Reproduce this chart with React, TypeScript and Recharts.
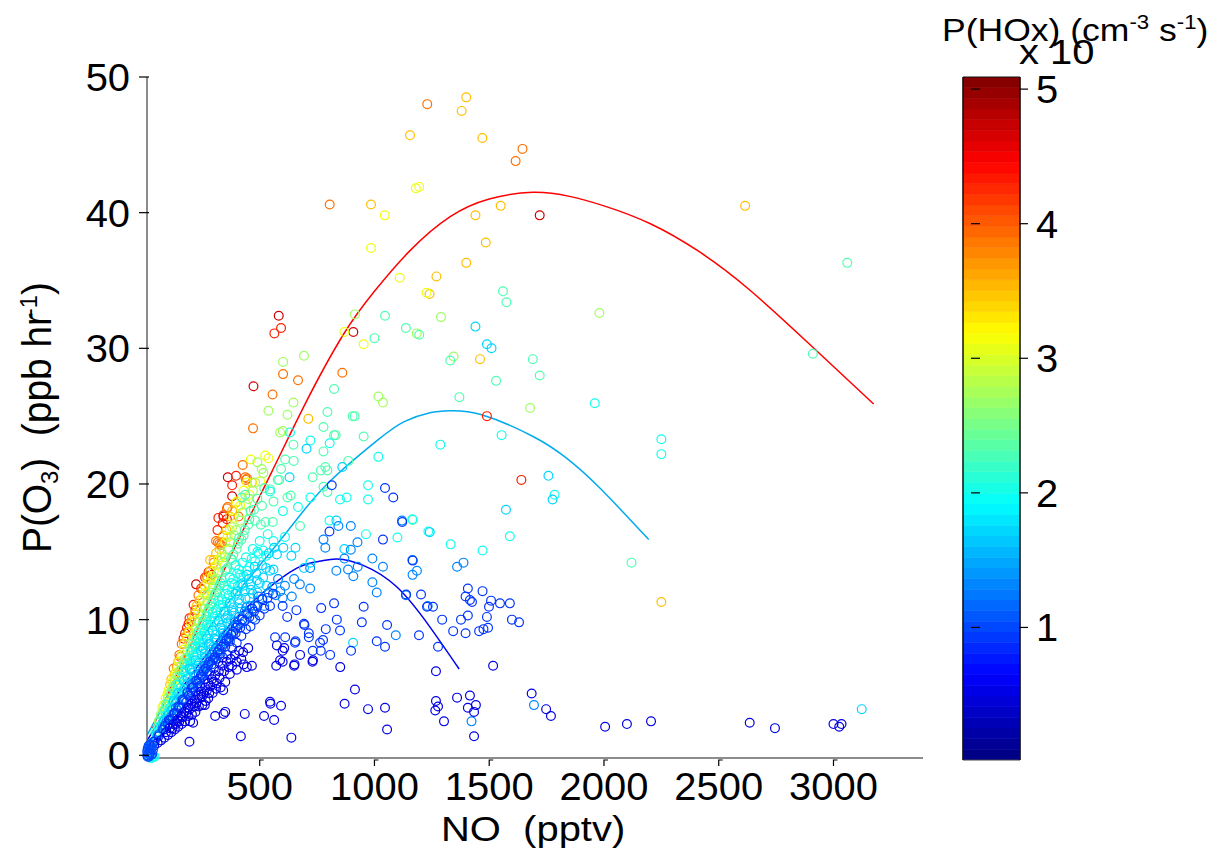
import { Bar, BarChart, ComposedChart, Line, Scatter, XAxis, YAxis } from "recharts";

// scatter points [NO pptv, P(O3) ppb/hr], grouped by P(HOx) level of the colorbar
const hox05 = [[194,1],[418,1.4],[638,1.3],[1055,1.9],[1434,1.4],[1303,2.5],[915,4.85],[870,3.8],[972,3.4],[1046,3.5],[1268,4],[1277,3.6],[1265,3.3],[1360,4.25],[1416,4.4],[1407,3.5],[1442,3.7],[1434,3.2],[1685,4.55],[1748,3.4],[1769,2.9],[545,3.95],[547,3.8],[593,3.65],[519,2.9],[563,2.6],[435,3.05],[350,3.2],[343,3.05],[306,2.9],[261,3.7],[210,2.4],[2005,2.1],[2100,2.3],[2205,2.5],[2635,2.4],[2745,2],[3000,2.3],[3025,2.1],[3035,2.3],[1517,6.6],[1268,6.2],[851,6.5],[330,5],[341,4.8],[310,4.9],[295,4.6],[280,4.6],[265,4],[250,3.7],[235,3.6],[220,3.2],[205,3],[190,2.9],[175,2.5],[160,2.3],[145,2.1],[130,1.9],[115,1.7],[100,1.5],[85,1.3],[70,1.1],[55,0.9],[40,0.7],[197,2.5],[350,5.4],[370,6],[345,6.2],[325,5.7],[300,5.4],[285,5.1],[270,4.8],[255,4.5],[240,4.2],[225,3.9],[210,3.6],[195,3.4],[180,3.1],[165,2.8],[150,2.5],[135,2.3],[120,2],[380,6.6],[400,6.9],[420,7.1],[365,6.5],[430,6.7],[400,6.3],[444,6.5],[466,6.6],[572,6.6],[600,6.9],[589,7],[650,6.6],[652,6.7],[730,6.9],[732,7],[575,8.1],[600,7.7],[607,7.9],[676,7.4]];
const hox05Dense = [[92,1.7],[108,2],[124,2.3],[142,2.6],[158,2.9],[172,3.2],[188,3.5],[203,3.8],[217,4.1],[232,4.4],[246,4.7],[262,5],[276,5.3],[292,5.6],[306,5.9],[322,6.2],[338,6.6],[356,6.9],[374,7.1],[392,7.4],[410,7.7],[428,7.6],[450,7.9],[218,3.6],[248,4.3],[276,4.2],[312,5.3]];
const hox09 = [[567,8.7],[611,8.7],[654,8.3],[656,8.4],[693,9.7],[695,9.6],[714,9],[714,8.7],[731,7.7],[766,7.7],[807,7.4],[763,8.3],[776,8.5],[788,9.3],[850,9.2],[836,10],[768,10.85],[824,11.2],[898,7.7],[945,9.8],[953,10.95],[1010,8.4],[1046,8],[1055,9.6],[1194,8.85],[1277,8],[1343,9.15],[1397,9],[1295,10],[1229,10.95],[1255,10.95],[1377,10],[1407,10.3],[1456,9.15],[1475,9.3],[1495,9.4],[1490,10.2],[1499,10.95],[1547,11.2],[1590,11.2],[1599,10],[1630,9.8],[1407,12.3],[1471,12.1],[1397,11.7],[1416,11.45],[1425,11.3],[1508,11.4],[1203,11.85],[1138,11.85],[1167,14.35],[1121,17.2],[300,6.4],[280,6],[260,5.6],[240,5.1],[220,4.7],[200,4.3],[180,3.9],[160,3.5],[140,3.1],[120,2.7],[100,2.3],[80,1.9],[60,1.4],[40,1],[320,6.9],[340,7.2],[360,7.4],[380,7.9],[400,8.3],[420,8.8],[440,9.3],[460,9.5],[480,10],[500,10.3],[520,10.8],[545,11],[310,7.1],[290,6.7],[270,6.2],[250,5.8],[230,5.3],[210,5],[190,4.4],[170,4],[150,3.5],[130,3.1],[110,2.6],[350,8],[370,8.4],[395,9],[415,9.4],[435,9.9],[455,10.2],[475,10.6],[330,7.5],[660,10.7],[620,10.2],[600,11],[1046,19.7],[1082,19],[814,19.9],[1037,15.9],[804,16.5]];
const hox09Dense = [[88,2.2],[104,2.6],[126,3.1],[145,3.6],[165,4.1],[186,4.6],[205,5],[224,5.5],[244,5.9],[264,6.4],[284,6.9],[304,7.2],[324,7.8],[344,8.2],[364,8.6],[384,9.1],[404,9.6],[424,10],[446,10.4],[468,10.8],[490,11],[512,11.5],[534,11.6],[558,11.9],[205,4.6],[236,5.6],[256,6.2],[276,6.7],[296,7],[316,7.6],[336,8],[356,8.5],[376,8.9],[396,9.4]];
const hox13 = [[1120,17.3],[843,16.9],[897,16.9],[778,15.9],[786,15.3],[926,15.7],[897,15.15],[1165,14.4],[1185,13.6],[1166,13.3],[991,14.5],[1037,13.9],[927,13.9],[885,13.7],[834,13.6],[908,13.2],[991,12.75],[1010,12],[1137,11.8],[1232,11],[1360,13.9],[1388,14.2],[869,14.5],[720,13.8],[650,13],[610,12.5],[580,13],[540,12],[510,11.5],[480,11],[450,10.5],[425,10],[400,9.5],[375,8.9],[350,8.4],[325,7.8],[300,7.2],[275,6.6],[250,6],[225,5.4],[200,4.8],[175,4.2],[150,3.6],[125,3],[105,2.6],[85,2.1],[65,1.6],[45,1.1],[25,0.7],[460,11],[435,10.6],[410,10.2],[385,9.5],[360,9],[335,8.4],[310,7.9],[285,7.2],[260,6.6],[235,6],[210,5.3],[185,4.7],[160,4.1],[135,3.5],[570,11.8],[600,11.6],[640,11.7],[675,12.6],[720,12.3],[1695,3.7],[1423,2.5],[1093,8.85]];
const hox13Dense = [[92,2.4],[118,2.9],[143,3.3],[167,4.1],[192,4.4],[218,5.5],[243,5.7],[268,6.5],[292,7.4],[317,7.4],[342,8.7],[367,8.7],[392,9.8],[417,9.7],[442,10.9],[470,10.1],[495,11.7],[520,11],[555,12.4],[590,12.1],[78,2],[58,1.5],[37,1],[202,5.2],[228,5],[254,6.3],[279,6.9],[304,7.6],[329,8.1],[355,8.6]];
const hox17 = [[704,22.6],[630,20.5],[860,21.25],[638,14.7],[656,15.3],[1241,16.45],[1573,18.1],[1776,18.85],[1758,20.6],[563,15.3],[528,13.8],[560,13.7],[721,14.2],[693,13.8],[603,15.3],[575,14.8],[540,14.9],[510,14],[485,13.4],[460,12.6],[435,12.1],[410,11.5],[385,10.9],[360,10.3],[335,9.6],[310,8.9],[285,8.2],[260,7.5],[235,6.8],[210,6.1],[185,5.3],[160,4.6],[135,3.9],[115,3.3],[95,2.7],[75,2.1],[55,1.5],[35,0.9],[445,13.3],[420,12.6],[395,11.9],[370,11.2],[345,10.6],[320,9.9],[295,9.2],[270,8.6],[245,7.7],[220,7],[195,6.4],[170,5.5],[145,4.6],[125,4],[470,11.9],[500,12.7],[530,12.5],[490,12],[455,11.6],[415,10.8],[375,10],[340,9],[300,8],[265,7],[907,8.3],[3123,3.4],[1440,31.6],[1490,30.3],[1510,30],[834,17.3],[869,15.2]];
const hox17Dense = [[83,2.5],[103,3],[122,3.4],[148,4.2],[172,4.9],[188,5.7],[213,5.8],[238,6.4],[262,7.2],[288,7.8],[312,8.5],[338,9.2],[362,9.8],[388,10.5],[412,11.2],[438,11.6],[462,12.2],[488,12.9],[515,13.1],[545,13.6],[203,6.3],[228,6.6],[253,7.9],[278,8.2],[303,8.6],[328,9.4],[353,10.1],[378,10.7],[403,12.1],[428,12.5],[453,13],[478,13.9]];
const hox20 = [[632,23.8],[721,23.2],[805,23],[1017,22],[972,19.9],[972,18.85],[850,18.85],[879,19],[721,19],[667,18.3],[601,18],[545,19.45],[804,17.3],[1165,17.4],[963,16.3],[1100,16.05],[1235,16.5],[495,14.85],[528,14.7],[1332,15.55],[1471,15.1],[1590,16.15],[1554,23.6],[1287,22.9],[1960,25.95],[2250,23.3],[2250,22.2],[1785,19.2],[480,14.3],[455,13.9],[430,13.2],[405,12.5],[380,12],[355,11.3],[330,10.6],[305,9.9],[280,9],[255,8.3],[230,7.5],[205,6.7],[180,5.8],[155,5],[130,4.2],[110,3.5],[90,2.9],[70,2.2],[50,1.6],[30,0.9],[500,15.8],[470,15.2],[440,14.6],[410,13.7],[385,13],[360,12.2],[335,11.5],[310,10.7],[285,9.9],[260,9.1],[235,8.3],[210,7.4],[185,6.6],[160,5.7],[425,14.2],[395,14],[370,13.1],[345,12.5],[320,11.4],[295,10.5],[270,9.6],[245,8.8],[220,8],[195,7.1],[170,6.2],[145,5.2],[560,15.8],[610,16.1]];
const hox20Dense = [[62,2],[82,2.6],[102,3.2],[122,3.9],[138,4.5],[152,4.6],[178,6.2],[198,6.9],[215,7.2],[240,8],[265,8.8],[290,9.6],[315,10.3],[340,11.1],[365,11.8],[390,12.6],[415,13.3],[445,13.6],[465,14.5],[490,15],[515,15.1],[535,16.3],[228,7.9],[252,8.6],[277,9.4],[302,10.2],[327,11.1],[352,11.9],[377,12.7],[402,13.4]];
const hox23 = [[795,25.3],[778,24.2],[824,27],[824,23.6],[831,23.6],[905,25],[914,25],[953,23.5],[778,22.4],[647,22.9],[611,21.8],[648,21.7],[593,21.1],[579,20.3],[585,20.3],[731,20.5],[767,21],[786,21.25],[795,21],[886,21.7],[778,19.8],[795,19.4],[621,19],[635,19.15],[525,17.2],[557,17.2],[676,16.9],[1000,30.75],[1046,32.4],[1137,31.5],[1195,31],[1560,34.2],[1575,33.4],[1330,29.1],[1690,29.2],[1720,28],[1530,27.6],[1370,26.4],[3060,36.3],[2910,29.6],[1167,17.35],[2120,14.2],[422,19],[437,19.2],[460,18],[490,18.9],[480,17.3],[450,17],[520,19.7],[545,19.6],[560,18.7],[420,15.9],[400,15.2],[375,14.5],[350,13.6],[325,12.5],[300,11.5],[275,10.6],[250,9.6],[225,8.7],[200,7.7],[175,6.8],[150,5.8],[125,4.9],[105,4],[85,3.3],[65,2.5],[45,1.7],[360,13.8],[335,12.9],[310,12],[285,11],[260,10],[235,9.2],[210,8.2],[385,14.8],[410,16],[435,16.6],[505,17]];
const hox23Dense = [[55,2.1],[75,2.9],[95,3.7],[115,4.5],[135,5.2],[160,6.3],[185,7.2],[208,7.9],[232,8.9],[255,9.9],[280,10.8],[305,11.8],[330,12.7],[355,13.7],[380,14.4],[405,15.6],[430,16.2],[455,17.4],[475,18.1],[510,18.4],[222,8.4],[246,9.3],[268,10.3],[292,11.2],[318,12.2]];
const hox27 = [[693,29.45],[602,29],[647,26],[538,25.4],[621,25.1],[1017,26.45],[1037,26],[915,32.5],[1184,31.1],[1290,32.3],[1980,32.6],[1345,29.4],[1678,25.6],[509,21.1],[516,20.8],[601,23.9],[589,23.8],[490,21.6],[470,19.5],[440,18.5],[415,17.3],[390,16.2],[365,15.2],[340,14.2],[315,13],[290,12],[260,10.8],[235,9.8],[210,8.8],[185,7.7],[160,6.6],[140,5.8],[120,5],[100,4.2],[80,3.3],[60,2.5],[380,16.8],[335,14.9],[300,12.9],[270,11.8]];
const hox27Dense = [[70,3],[90,3.8],[110,4.6],[130,5.4],[150,6.2],[172,7.1],[195,8.2],[222,9.3],[246,10.3],[272,11.3],[296,12.4],[322,13.5],[348,14.6],[372,15.7],[398,16.6],[425,17.9],[450,18.9],[480,20.1]];
const hox31 = [[461,21.8],[524,22.1],[538,21.9],[502,20.2],[400,18.7],[1045,39.8],[1180,41.8],[1195,41.9],[985,37.4],[1110,35.2],[869,31.2],[953,30.3],[1227,34.1],[125,5.8],[103,4.8],[430,19.5],[455,19.2],[370,16.6],[350,15.7],[330,14.6],[300,13.6],[275,12.7],[250,11.6],[240,10.9],[215,9.9],[195,9.1],[170,7.8],[150,6.9],[135,6.1],[90,4.2],[75,3.5],[310,14],[265,12],[285,12.9]];
const hox31Dense = [[82,3.7],[98,4.5],[118,5.4],[142,6.5],[162,7.4],[185,8.5],[208,9.5],[232,10.6],[258,11.9],[292,13.2],[320,14.4],[360,16.1],[385,17.5],[415,18.4],[445,20.1]];
const hox35 = [[712,24.8],[466,20.1],[284,14.4],[299,14.4],[2615,40.5],[1550,40.5],[1440,39.8],[1485,37.8],[1400,48.5],[1380,47.5],[1155,45.7],[1470,45.5],[985,40.6],[2250,11.3],[1400,36.3],[1270,35.3],[1240,34],[1460,29.2],[285,13.6],[260,12.5],[310,14.9],[340,16.2],[370,17.6],[395,18.6],[225,11],[200,9.8],[180,8.8],[130,6],[110,5.2],[115,5.6],[145,6.9],[170,8.2],[190,9.1],[215,10.4],[238,11.4],[272,13],[325,15.2],[355,16.6],[380,18]];
const hox39 = [[602,28.1],[667,27.65],[556,26.6],[471,24.1],[426,21.4],[437,20.5],[440,20.3],[445,20.4],[408,17.6],[357,18.2],[361,18.3],[310,15.8],[318,15.7],[325,15.6],[331,15.5],[336,15.7],[233,11.8],[154,7.25],[139,6.5],[860,28.2],[805,40.6],[1230,48],[1645,44.7],[1615,43.8],[250,12.2],[270,13.2],[300,14.2],[150,7.4],[205,10.2],[160,8.2],[125,6.4]];
const hox43 = [[593,31.5],[564,31.1],[397,20.6],[380,19.9],[320,17.5],[342,17.7],[357,17.4],[339,17.1],[316,16.6],[277,13.5],[289,13.3],[212,11.1],[194,10.1],[190,9.7],[168,8.6],[175,9],[1490,25],[1640,20.3],[245,12.3],[262,13.1],[220,10.7],[183,9.4]];
const hox47 = [[583,32.4],[908,31.2],[473,27.2],[361,20.5],[380,19.1],[223,12.6],[1720,39.8],[342,17.6]];
const originRim = [[35,-0.1],[42,-0.1],[30,-0.2],[25,-0.2]];
const originBlob = [[10,0],[14,0.2],[18,0.1],[12,0.5],[20,0.4],[24,0.2],[28,0.5],[16,0.7],[22,0.8],[30,0.8],[35,0.4],[10,0.3],[12,-0.1],[18,-0.1],[26,0],[32,0.1]];

// fitted curves
const curveHigh = [[32,2],[200,8.2],[371,14.6],[550,20.8],[701,26],[864,31],[1000,34.2],[1155,37.2],[1330,39.7],[1500,41],[1690,41.5],[1850,41.2],[2000,40.5],[2200,39.2],[2417,37.1],[2635,34.3],[2896,30.3],[3175,25.9]];
const curveMid = [[10,1.5],[100,4.3],[250,8.7],[400,12],[515,14.3],[662,17.4],[806,20.2],[1011,23.2],[1130,24.6],[1242,25.25],[1330,25.4],[1467,25.1],[1691,23.5],[1837,21.9],[1982,19.7],[2195,15.9]];
const curveLow = [[10,1.1],[100,3.5],[271,7.5],[390,10],[515,12],[662,13.8],[760,14.3],[837,14.47],[951,14],[1098,12.4],[1242,9.45],[1369,6.36]];

const xTicks = [500, 1000, 1500, 2000, 2500, 3000];
const yTicks = [0, 10, 20, 30, 40, 50];
const colorbarTicks = [1, 2, 3, 4, 5];
const COLORBAR_MIN = 0.015;
const COLORBAR_MAX = 5.09;
const COLORBAR_BANDS = 64;

const jet = (t: number) => {
  const ch = (v: number) => Math.round(255 * Math.max(0, Math.min(1, v)));
  const r = ch(1.5 - Math.abs(4 * t - 3));
  const g = ch(1.5 - Math.abs(4 * t - 2));
  const b = ch(1.5 - Math.abs(4 * t - 1));
  return `rgb(${r},${g},${b})`;
};
const hoxColor = (v: number) => jet(v / COLORBAR_MAX);

const scatterGroups: [number, number[][]][] = [
  [2.0, originRim],
  [4.7, hox47],
  [4.3, hox43],
  [3.9, hox39],
  [3.5, hox35],
  [3.1, hox31],
  [3.1, hox31Dense],
  [2.7, hox27],
  [2.7, hox27Dense],
  [2.3, hox23],
  [2.3, hox23Dense],
  [2.0, hox20],
  [2.0, hox20Dense],
  [1.7, hox17],
  [1.7, hox17Dense],
  [1.3, hox13],
  [1.3, hox13Dense],
  [0.9, hox09],
  [0.9, hox09Dense],
  [0.5, hox05],
  [0.5, hox05Dense],
  [1.0, originBlob],
];

const toRows = (pairs: number[][]) => pairs.map(([x, y]) => ({ x, y }));

const bandKeys = Array.from({ length: COLORBAR_BANDS }, (_, i) => `band${i}`);
const bandStep = (COLORBAR_MAX - COLORBAR_MIN) / COLORBAR_BANDS;
const colorbarRow: Record<string, number | string> = { name: "P(HOx)" };
bandKeys.forEach((k, i) => {
  colorbarRow[k] = i === 0 ? bandStep + COLORBAR_MIN : bandStep;
});

const FONT = "'Liberation Sans', Arial, sans-serif";

function Stretched({ x, y, size = 36, stretch = 1.11, anchor = "start", children }: any) {
  return (
    <text transform={`translate(${x},${y}) scale(${stretch},1)`} textAnchor={anchor} fontFamily={FONT} fontSize={size} fill="#000">
      {children}
    </text>
  );
}

function XTick({ x, y, payload }: any) {
  return (
    <g>
      <path d={`M${x} ${y}v-6h4`} stroke="#000" fill="none" strokeWidth={1.2} />
      <Stretched x={x} y={800} size={38} stretch={1.05} anchor="middle">{payload.value}</Stretched>
    </g>
  );
}

function YTick({ x, y, payload }: any) {
  return (
    <g>
      <line x1={x} x2={x + 10} y1={y} y2={y} stroke="#000" strokeWidth={1.2} />
      <Stretched x={x - 9} y={y + 14} size={38} stretch={1.05} anchor="end">{payload.value}</Stretched>
    </g>
  );
}

function ColorbarTick({ x, y, payload }: any) {
  return (
    <g>
      <line x1={x} x2={x - 9} y1={y} y2={y} stroke="#000" strokeWidth={1.2} />
      <line x1={x - 57} x2={x - 48} y1={y} y2={y} stroke="#000" strokeWidth={1.2} />
      <Stretched x={x + 8} y={y + 14} size={38} stretch={1.05}>{payload.value}</Stretched>
    </g>
  );
}

export default function App() {
  return (
    <div style={{ position: "absolute", left: 0, top: 0, width: 1212, height: 851, background: "#fff" }}>
      <ComposedChart
        width={1212}
        height={851}
        style={{ position: "absolute", left: 0, top: 0 }}
        margin={{ top: 77, right: 289, bottom: 0, left: 146 }}
      >
        <XAxis
          dataKey="x"
          type="number"
          domain={[9, 3390]}
          ticks={xTicks}
          stroke="#666"
          strokeWidth={1.5}
          tickLine={false}
          tick={<XTick />}
          height={93}
        />
        <YAxis
          dataKey="y"
          type="number"
          domain={[-0.2, 50]}
          ticks={yTicks}
          stroke="#666"
          strokeWidth={1.5}
          tickLine={false}
          tick={<YTick />}
          width={1}
        />
        {scatterGroups.map(([level, pts], i) => (
          <Scatter
            key={i}
            data={toRows(pts)}
            dataKey="y"
            isAnimationActive={false}
            shape={(p: any) => (
              <circle cx={p.cx} cy={p.cy} r={4.4} fill="none" stroke={hoxColor(level)} strokeWidth={1.2} />
            )}
          />
        ))}
        <Line data={toRows(curveHigh)} dataKey="y" type="natural" stroke="#ff0000" strokeWidth={1.5} dot={false} isAnimationActive={false} />
        <Line data={toRows(curveMid)} dataKey="y" type="natural" stroke="#00aaee" strokeWidth={1.5} dot={false} isAnimationActive={false} />
        <Line data={toRows(curveLow)} dataKey="y" type="natural" stroke="#0000ee" strokeWidth={1.5} dot={false} isAnimationActive={false} />
        <Stretched x={441} y={841}>NO{"\u00a0\u00a0"}(pptv)</Stretched>
        <text transform="translate(51,553) rotate(-90) scale(1.08,1.11)" fontFamily={FONT} fontSize={36} fill="#000">
          P(O<tspan fontSize={22} dy={6}>3</tspan><tspan dy={-6}>){"\u00a0\u00a0"}(ppb hr</tspan>
          <tspan fontSize={22} dx={-3} dy={-13}>-1</tspan><tspan dy={13}>)</tspan>
        </text>
        <Stretched x={942} y={41} size={32}>
          P(HOx) (cm<tspan fontSize={20} dy={-12}>-3</tspan><tspan dy={12}> s</tspan>
          <tspan fontSize={20} dy={-12}>-1</tspan><tspan dy={12}>)</tspan>
        </Stretched>
        <Stretched x={1019} y={64}>x 10</Stretched>
      </ComposedChart>
      <BarChart
        width={130}
        height={701}
        style={{ position: "absolute", left: 962, top: 60 }}
        data={[colorbarRow]}
        barCategoryGap={0}
        margin={{ top: 16, right: 0, bottom: 0, left: 0 }}
      >
        <XAxis dataKey="name" stroke="#444" tick={false} tickLine={false} height={1} />
        <XAxis xAxisId="top" orientation="top" dataKey="name" stroke="#111" tick={false} tickLine={false} height={1} />
        <YAxis
          yAxisId="edge"
          orientation="left"
          type="number"
          domain={[COLORBAR_MIN, COLORBAR_MAX]}
          allowDataOverflow
          tick={false}
          tickLine={false}
          stroke="#111"
          strokeWidth={1.5}
          width={1}
        />
        <YAxis
          orientation="right"
          type="number"
          domain={[COLORBAR_MIN, COLORBAR_MAX]}
          allowDataOverflow
          ticks={colorbarTicks}
          tickLine={false}
          tick={<ColorbarTick />}
          stroke="#111"
          strokeWidth={1.5}
          width={72}
        />
        {bandKeys.map((k, i) => (
          <Bar
            key={k}
            dataKey={k}
            stackId="bar"
            fill={jet((i + 0.5) / COLORBAR_BANDS)}
            stroke={jet((i + 0.5) / COLORBAR_BANDS)}
            strokeWidth={0.6}
            isAnimationActive={false}
          />
        ))}
      </BarChart>
    </div>
  );
}
